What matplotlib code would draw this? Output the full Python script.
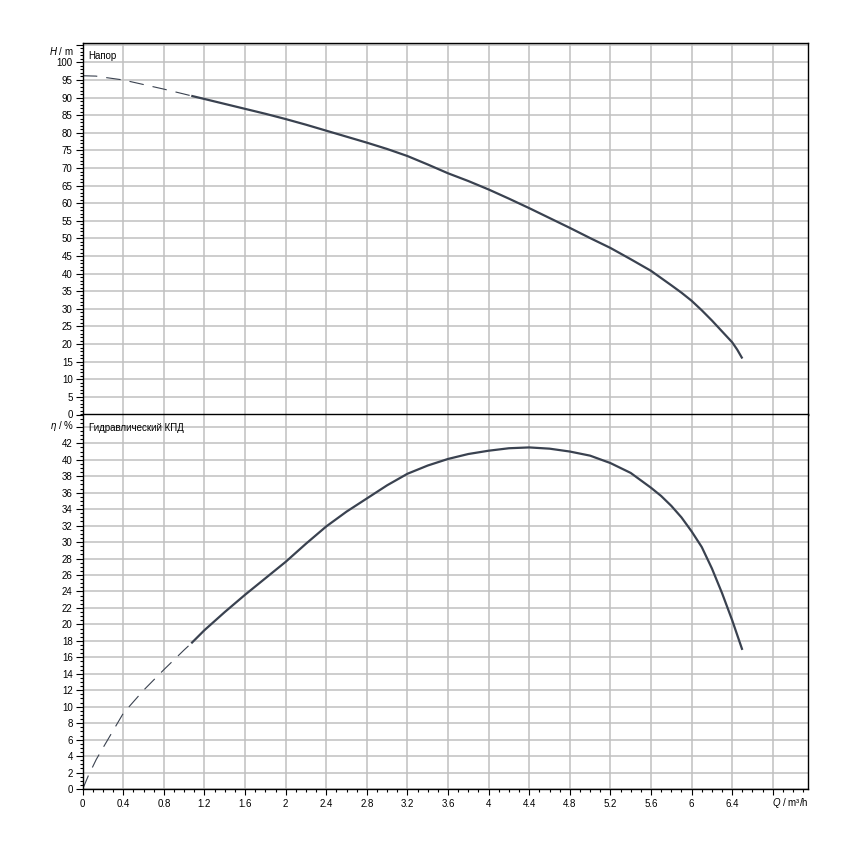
import matplotlib
matplotlib.use('Agg')
import matplotlib.pyplot as plt
from matplotlib.ticker import MultipleLocator, FuncFormatter

# ---- data ----
q_h_dash = [0, 0.13, 0.2, 0.4, 0.6, 0.8, 1.0, 1.07]
h_dash = [96.2, 96.1, 95.8, 95.0, 93.7, 92.4, 91.0, 90.5]
q_h = [1.07, 1.2, 1.4, 1.6, 1.8, 2.0, 2.2, 2.4, 2.6, 2.8, 3.0, 3.2, 3.4, 3.6, 3.8,
       4.0, 4.2, 4.4, 4.6, 4.8, 5.0, 5.2, 5.4, 5.6, 5.8, 5.9, 6.0, 6.1, 6.2, 6.3, 6.4, 6.45, 6.5]
h = [90.5, 89.6, 88.2, 86.8, 85.4, 83.9, 82.3, 80.6, 78.9, 77.2, 75.4, 73.4, 71.0, 68.5, 66.3,
     63.9, 61.3, 58.6, 55.8, 53.0, 50.1, 47.3, 44.1, 40.8, 36.7, 34.6, 32.3, 29.6, 26.7, 23.6, 20.5,
     18.4, 15.9]

q_eta_dash = [0, 0.055, 0.134, 0.2, 0.4, 0.6, 0.8, 1.0, 1.07]
eta_dash = [0, 1.6, 3.6, 5.0, 9.2, 12.0, 14.5, 16.9, 17.7]
q_eta = [1.07, 1.2, 1.4, 1.6, 1.8, 2.0, 2.2, 2.4, 2.6, 2.8, 3.0, 3.2, 3.4, 3.6, 3.8,
         4.0, 4.2, 4.4, 4.6, 4.8, 5.0, 5.2, 5.4, 5.6, 5.7, 5.8, 5.9, 6.0, 6.1, 6.2, 6.3, 6.4, 6.5]
eta = [17.7, 19.3, 21.5, 23.6, 25.6, 27.6, 29.8, 31.9, 33.7, 35.3, 36.9, 38.3, 39.3, 40.1, 40.7,
       41.1, 41.4, 41.5, 41.35, 41.0, 40.5, 39.6, 38.4, 36.6, 35.6, 34.4, 33.0, 31.3, 29.4, 26.8,
       23.8, 20.5, 16.9]

top_title = "Напор"
bottom_title = "Гидравлический КПД"

# ---- style ----
plt.rcParams['font.family'] = ['Liberation Sans', 'DejaVu Sans']
plt.rcParams['mathtext.fontset'] = 'custom'
plt.rcParams['mathtext.it'] = 'Liberation Sans:italic'
plt.rcParams['mathtext.rm'] = 'Liberation Sans'
plt.rcParams['lines.scale_dashes'] = False

curve_color = '#3a4250'
grid_color = '#c0c0c0'
fs = 7

fig = plt.figure(figsize=(8.5, 8.5), dpi=100)
left, width = 82.7 / 850, (808.3 - 82.7) / 850
ax1 = fig.add_axes([left, 1 - 414.5 / 850, width, (414.5 - 43) / 850])
ax2 = fig.add_axes([left, 1 - 789 / 850, width, (789 - 414.5) / 850])

xmax = 7.15


def fmt_factory(hide):
    def f(v, pos):
        if abs(v - hide) < 1e-6:
            return ''
        return '%g' % round(v, 2)
    return f


for ax in (ax1, ax2):
    ax.set_xlim(0, xmax)
    ax.xaxis.set_major_locator(MultipleLocator(0.4))
    ax.xaxis.set_minor_locator(MultipleLocator(0.1))
    ax.grid(which='major', color=grid_color, lw=1.1)
    ax.set_axisbelow(True)
    for s in ax.spines.values():
        s.set_color('black')
        s.set_linewidth(1.0)
    ax.tick_params(which='major', direction='out', length=4.5, width=0.8,
                   labelsize=fs, pad=2.5, colors='black')
    ax.tick_params(which='minor', direction='out', length=2.5, width=0.8, colors='black')
    ax.tick_params(axis='y', which='major', length=4.8, pad=2.4)

# top panel
ax1.set_ylim(0, 105.5)
ax1.yaxis.set_major_locator(MultipleLocator(5))
ax1.yaxis.set_minor_locator(MultipleLocator(1))
ax1.yaxis.set_major_formatter(FuncFormatter(fmt_factory(105)))
ax1.tick_params(axis='x', which='both', bottom=False, labelbottom=False)
ax1.plot(q_h_dash, h_dash, color=curve_color, lw=0.8, dashes=(10.5, 6.5),
         solid_capstyle='butt')
ax1.plot(q_h, h, color=curve_color, lw=1.6, solid_capstyle='butt', solid_joinstyle='round')
ax1.text(0.008, 0.978, top_title, transform=ax1.transAxes, fontsize=fs,
         ha='left', va='top')

# bottom panel
ax2.set_ylim(0, 45.5)
ax2.yaxis.set_major_locator(MultipleLocator(2))
ax2.yaxis.set_minor_locator(MultipleLocator(0.5))
ax2.yaxis.set_major_formatter(FuncFormatter(fmt_factory(44)))
ax2.xaxis.set_major_formatter(FuncFormatter(fmt_factory(6.8)))
ax2.plot(q_eta_dash, eta_dash, color=curve_color, lw=0.8, dashes=(10.5, 6.5),
         solid_capstyle='butt')
ax2.plot(q_eta, eta, color=curve_color, lw=1.6, solid_capstyle='butt', solid_joinstyle='round')
ax2.text(0.008, 0.978, bottom_title, transform=ax2.transAxes, fontsize=fs,
         ha='left', va='top')

# axis labels
fig.text(74 / 850, 1 - 50.7 / 850, r'$\it{H}$ / m', fontsize=fs, ha='right', va='center')
fig.text(74 / 850, 1 - 426.5 / 850, r'$\it{η}$ / %', fontsize=fs, ha='right', va='center')
fig.text(809 / 850, 1 - 803.3 / 850, r'$\it{Q}$ / m³/h', fontsize=fs, ha='right', va='center')

fig.savefig('out.png', dpi=100, facecolor='white')
